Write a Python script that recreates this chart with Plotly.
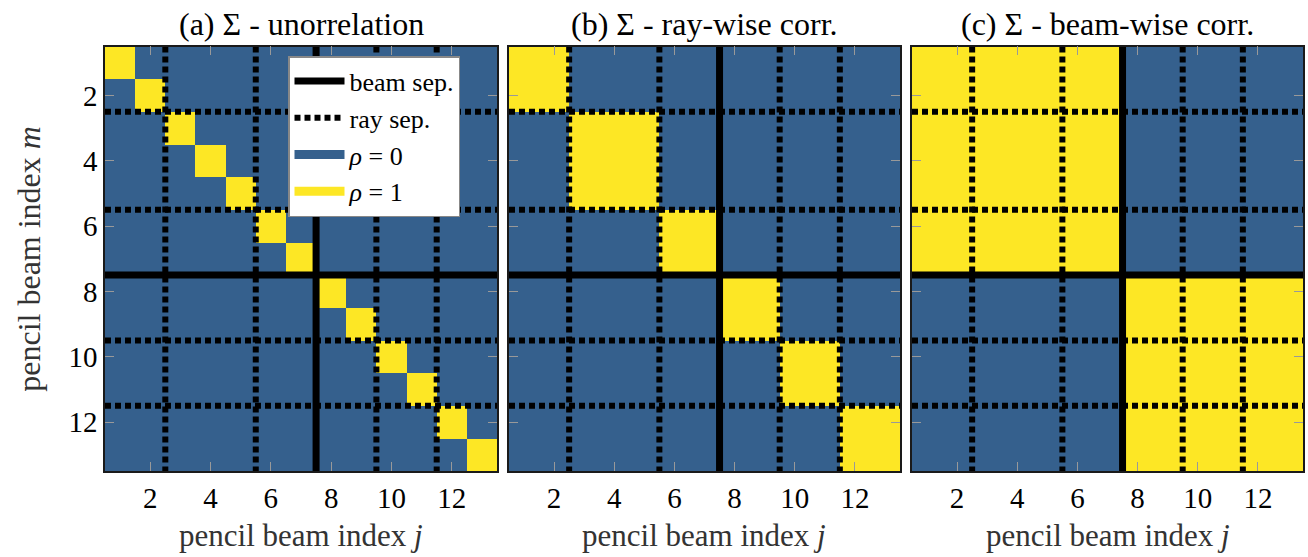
import plotly.graph_objects as go

# ---- data ----
indices = list(range(1, 14))                      # pencil beam indices 1..13
ray_group = [1, 1, 2, 2, 2, 3, 3, 4, 4, 5, 5, 6, 6]  # ray membership of each pencil beam
beam_group = [1, 1, 1, 1, 1, 1, 1, 2, 2, 2, 2, 2, 2]  # beam membership of each pencil beam
beam_sep = [7.5]
ray_sep = [2.5, 5.5, 9.5, 11.5]
tick_vals = [2, 4, 6, 8, 10, 12]
titles = ["(a) Σ - unorrelation", "(b) Σ - ray-wise corr.", "(c) Σ - beam-wise corr."]

# correlation matrices (rho = 1 if same pencil beam / same ray / same beam)
z_a = [[1 if i == j else 0 for j in indices] for i in indices]
z_b = [[1 if ray_group[i - 1] == ray_group[j - 1] else 0 for j in indices] for i in indices]
z_c = [[1 if beam_group[i - 1] == beam_group[j - 1] else 0 for j in indices] for i in indices]
mats = [z_a, z_b, z_c]

BLUE = "#35608d"
YELLOW = "#fde725"
FONT = "Liberation Serif"

W, H = 1308, 557
xdoms = [(105 / W, 497 / W), (509 / W, 900 / W), (912 / W, 1303 / W)]
ydom = (1 - 471 / H, 1 - 46.5 / H)
lo, hi = 0.5, 13.5

fig = go.Figure()


def sep_xy(positions):
    xs, ys = [], []
    for p in positions:
        xs += [p, p, None]
        ys += [lo, hi, None]
    for p in positions:
        xs += [lo, hi, None]
        ys += [p, p, None]
    return xs, ys


for k in range(3):
    xa = "x" if k == 0 else f"x{k + 1}"
    ya = "y" if k == 0 else f"y{k + 1}"
    fig.add_trace(go.Heatmap(
        z=mats[k], x=indices, y=indices, xaxis=xa, yaxis=ya,
        colorscale=[[0, BLUE], [0.5, BLUE], [0.5, YELLOW], [1, YELLOW]],
        zmin=0, zmax=1, showscale=False, hoverinfo="skip",
    ))
    xs, ys = sep_xy(ray_sep)
    fig.add_trace(go.Scatter(
        x=xs, y=ys, xaxis=xa, yaxis=ya, mode="lines",
        line=dict(color="black", width=6, dash="6px,4px"),
        name="ray sep.", showlegend=False, hoverinfo="skip",
    ))
    xs, ys = sep_xy(beam_sep)
    fig.add_trace(go.Scatter(
        x=xs, y=ys, xaxis=xa, yaxis=ya, mode="lines",
        line=dict(color="black", width=7),
        name="beam sep.", showlegend=False, hoverinfo="skip",
    ))

# legend entries
legend_items = [
    ("beam sep.", "black", "solid", 7),
    ("ray sep.", "black", "6px,4px", 6),
    ("<i>ρ</i> = 0", BLUE, "solid", 9),
    ("<i>ρ</i> = 1", YELLOW, "solid", 9),
]
for name, col, dash, w in legend_items:
    fig.add_trace(go.Scatter(
        x=[None], y=[None], mode="lines", name=name,
        line=dict(color=col, width=w, dash=dash), showlegend=True,
    ))

axis_common = dict(
    range=[lo, hi], tickvals=tick_vals, ticks="inside", ticklen=9,
    tickcolor="#999999", tickwidth=1, showline=True, linecolor="#1a1a1a",
    linewidth=1.5, mirror="ticks", showgrid=False, zeroline=False,
    tickfont=dict(family=FONT, size=29, color="black"),
)

layout = dict(
    width=W, height=H, margin=dict(l=0, r=0, t=0, b=0),
    paper_bgcolor="white", plot_bgcolor="white",
    font=dict(family=FONT, color="black"),
    legend=dict(
        x=288 / W, y=1 - 56 / H, xanchor="left", yanchor="top",
        bgcolor="white", bordercolor="#888888", borderwidth=1.5,
        font=dict(family=FONT, size=26, color="black"),
        tracegroupgap=0, itemwidth=50,
    ),
)
for k in range(3):
    xk = "xaxis" if k == 0 else f"xaxis{k + 1}"
    yk = "yaxis" if k == 0 else f"yaxis{k + 1}"
    ya = "y" if k == 0 else f"y{k + 1}"
    xa = "x" if k == 0 else f"x{k + 1}"
    layout[xk] = dict(axis_common, domain=list(xdoms[k]), anchor=ya)
    layout[yk] = dict(axis_common, domain=list(ydom), anchor=xa,
                      range=[hi, lo], showticklabels=(k == 0))

annotations = []
for k in range(3):
    cx = (xdoms[k][0] + xdoms[k][1]) / 2
    annotations.append(dict(
        text=titles[k], x=cx, y=1 - 24 / H,
        xref="paper", yref="paper", showarrow=False, xanchor="center", yanchor="middle",
        font=dict(family=FONT, size=32, color="black"),
    ))
    annotations.append(dict(
        text="pencil beam index <i>j</i>", x=cx, y=1 - 535 / H,
        xref="paper", yref="paper", showarrow=False, xanchor="center", yanchor="middle",
        font=dict(family=FONT, size=31, color="#333333"),
    ))
annotations.append(dict(
    text="pencil beam index <i>m</i>", x=29 / W, y=(ydom[0] + ydom[1]) / 2,
    xref="paper", yref="paper", showarrow=False, xanchor="center", yanchor="middle",
    textangle=-90, font=dict(family=FONT, size=32, color="#333333"),
))
layout["annotations"] = annotations

fig.update_layout(**layout)
fig.write_html("out.html")
